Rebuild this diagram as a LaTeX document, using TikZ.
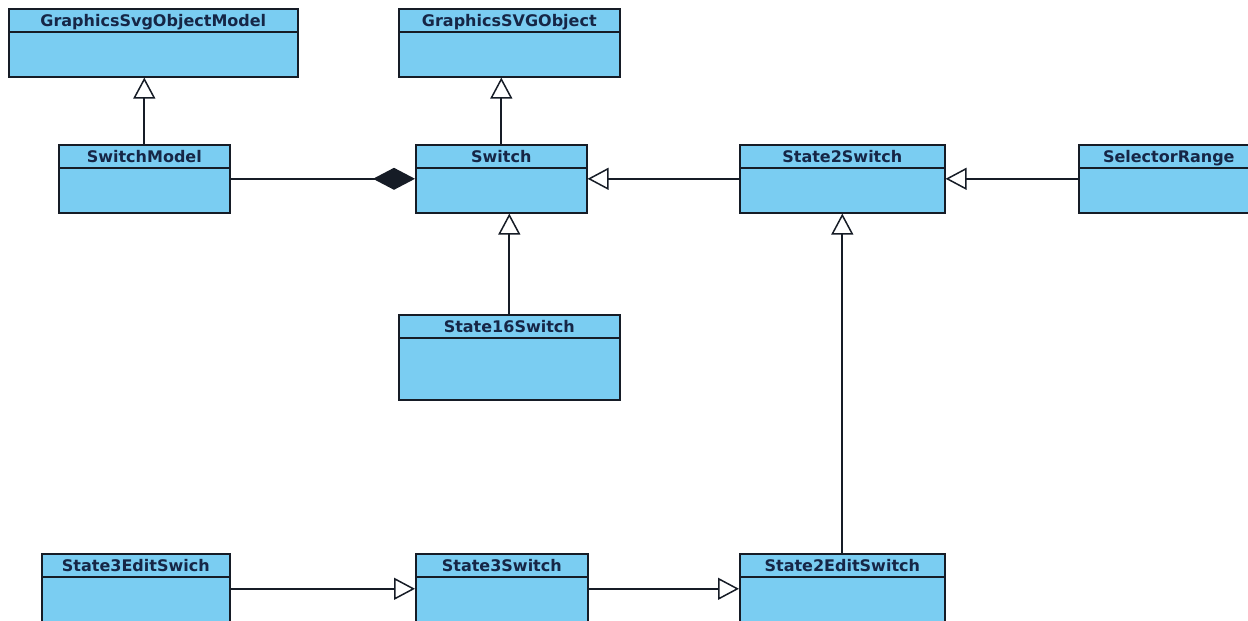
\documentclass[tikz,border=0pt]{standalone}
\usepackage{fontspec}
\setmainfont{DejaVu Sans}
\usepackage{tikz}
\usetikzlibrary{calc,positioning,arrows.meta}

\definecolor{classfill}{RGB}{122,205,242}
\definecolor{classedge}{RGB}{22,28,38}
\definecolor{classtext}{RGB}{22,38,70}

\tikzset{
 cls/.style={draw=classedge, fill=classfill, line width=1.6pt, rectangle, anchor=north west, inner sep=0pt},
 title/.style={font=\bfseries\fontsize{16}{18}\selectfont, text=classtext, inner sep=0pt},
 inherit/.style={draw=classedge, line width=1.7pt, -{Triangle[open, length=21pt, width=22pt, line width=1.5pt]}},
 compose/.style={draw=classedge, line width=1.7pt, -{Diamond[length=42pt, width=22pt]}}
}

% header bar and title of a class box
\newcommand{\classhead}[2]{%
 \draw[draw=classedge, line width=1.6pt] ($(#1.north west)+(0,24)$) -- ($(#1.north east)+(0,24)$);
 \node (#1-title) [title, anchor=base] at ($(#1.north)+(0,18)$) {#2};
}

\begin{document}
\begin{tikzpicture}[x=1pt, y=-1pt]
 \useasboundingbox (0,0) rectangle (1248,621);
 \clip (0,0) rectangle (1248,621);

 % top row
 \node (gsom) [cls, minimum width=289, minimum height=68] at (8,8) {};
 \node (gso) [cls, minimum width=221, minimum height=68] at (398,8) {};
 % middle row
 \node (sm) [cls, minimum width=171, minimum height=68] at (58,144) {};
 \node (sw) [cls, minimum width=171, minimum height=68] at (415,144) {};
 \node (s2) [cls, minimum width=205, minimum height=68] at (739,144) {};
 \node (sr) [cls, minimum width=180, minimum height=68] at (1078,144) {};
 \node (s16) [cls, minimum width=221, minimum height=85] at (398,314) {};
 % bottom row
 \node (s3e) [cls, minimum width=188, minimum height=70] at (41,553) {};
 \node (s3) [cls, minimum width=172, minimum height=70] at (415,553) {};
 \node (s2e) [cls, minimum width=205, minimum height=70] at (739,553) {};

 \classhead{gsom}{GraphicsSvgObjectModel}
 \classhead{gso}{GraphicsSVGObject}
 \classhead{sm}{SwitchModel}
 \classhead{sw}{Switch}
 \classhead{s2}{State2Switch}
 \classhead{sr}{SelectorRange}
 \classhead{s16}{State16Switch}
 \classhead{s3e}{State3EditSwich}
 \classhead{s3}{State3Switch}
 \classhead{s2e}{State2EditSwitch}

 \draw[inherit] (sm.north) -- (sm.north |- gsom.south);
 \draw[inherit] (sw.north) -- (sw.north |- gso.south);
 \draw[compose] (sm.east) -- (sw.west);
 \draw[inherit] (s2.west) -- (sw.east);
 \draw[inherit] (sr.west) -- (s2.east);
 \draw[inherit] (s16.north) -- (s16.north |- sw.south);
 \draw[inherit] (s2e.north) -- (s2e.north |- s2.south);
 \draw[inherit] (s3e.east) -- (s3.west);
 \draw[inherit] (s3.east) -- (s2e.west);
\end{tikzpicture}
\end{document}
